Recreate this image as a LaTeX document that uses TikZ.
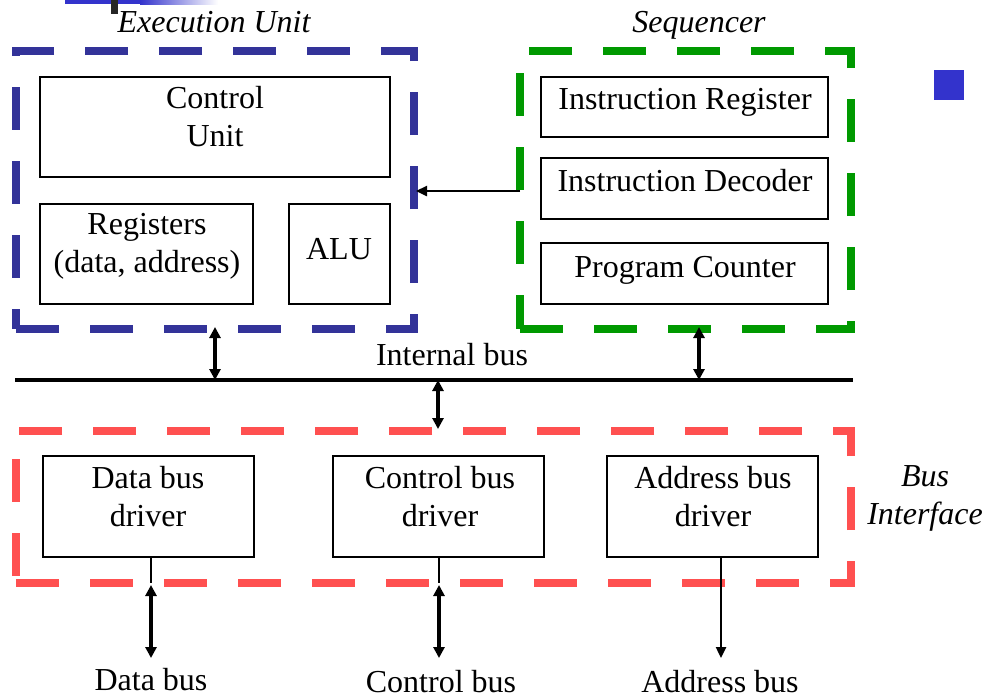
\documentclass[tikz,border=0pt]{standalone}
\usepackage{fontspec}
\setmainfont{Liberation Serif}
\usetikzlibrary{arrows.meta,fit}
\definecolor{eublue}{HTML}{333399}
\definecolor{seqgreen}{HTML}{009900}
\definecolor{bired}{HTML}{FF5050}
\definecolor{sqblue}{HTML}{3333CC}
\begin{document}
\begin{tikzpicture}[x=0.5pt,y=-0.5pt,
  box/.style={draw=black,line width=1pt,inner sep=0pt,outer sep=0pt},
  frame/.style={line width=4pt,dash pattern=on 21.3pt off 15.7pt,inner sep=0pt,outer sep=0pt},
  txt/.style={font=\fontsize{16}{19}\selectfont,align=center,inner sep=0pt},
  ital/.style={font=\fontsize{16}{19}\selectfont\itshape,align=center,inner sep=0pt},
  dbl/.style={line width=1.8pt,{Triangle[length=5.5pt,width=5.5pt]}-{Triangle[length=5.5pt,width=5.5pt]}},
  conn/.style={line width=1.2pt},
  sarrow/.style={line width=1.2pt,-{Triangle[length=5.5pt,width=5pt]}}]
\useasboundingbox (0,0) rectangle (984,697);

% top-left decoration and square
\fill[sqblue] (65,0) rectangle (140,4);
\shade[left color=sqblue,right color=white] (140,0) rectangle (218,4);
\fill[black!85] (111,0) rectangle (118,14);
\fill[sqblue] (934,70) rectangle (964,100);

% frames
\node[frame,draw=eublue,fit={(16,51)(414,329)}] (eu) {};
\node[frame,draw=seqgreen,fit={(520,51)(851,329)}] (seq) {};
\node[frame,draw=bired,fit={(16,431)(851,583)}] (bi) {};

% frame titles
\node[ital,anchor=base] (eut) at (214,32) {Execution Unit};
\node[ital,anchor=base] (seqt) at (699,32) {Sequencer};
\node[ital] (bit) at (925,498) {Bus\\Interface};

% execution unit boxes
\node[box,fit={(40,77)(390,177)}] (cu) {};
\node[txt] (cut) at (215,117) {Control\\Unit};
\node[box,fit={(40,204)(253,304)}] (reg) {};
\node[txt] (regt) at (147,246) {Registers\\(data, address)};
\node[box,fit={(289,204)(390,304)}] (alu) {};
\node[txt,anchor=base] (alut) at (339,259) {ALU};

% sequencer boxes
\node[box,fit={(541,77)(828,137)}] (ir) {};
\node[txt,anchor=base] (irt) at (685,109) {Instruction Register};
\node[box,fit={(541,158)(828,219)}] (id) {};
\node[txt,anchor=base] (idt) at (685,191) {Instruction Decoder};
\node[box,fit={(541,243)(828,304)}] (pc) {};
\node[txt,anchor=base] (pct) at (685,277) {Program Counter};

% bus interface boxes
\node[box,fit={(43,456)(254,557)}] (db) {};
\node[txt] (dbt) at (148,497) {Data bus\\driver};
\node[box,fit={(333,456)(544,557)}] (cb) {};
\node[txt] (cbt) at (440,497) {Control bus\\driver};
\node[box,fit={(607,456)(818,557)}] (ab) {};
\node[txt] (abt) at (713,497) {Address bus\\driver};

% internal bus
\coordinate (busL) at (15,380);
\coordinate (busR) at (853,380);
\draw[line width=2.2pt] (busL) -- (busR);
\node[txt,anchor=base] (busl) at (452,365) {Internal bus};

\coordinate (b1) at (215,380);
\coordinate (b2) at (699,380);
\coordinate (b3) at (438,380);
\draw[dbl] (eu.south -| b1) ++(0,-2) -- (b1);
\draw[dbl] (seq.south -| b2) ++(0,-2) -- (b2);
\draw[dbl] (b3) -- ([yshift=1pt]bi.north -| b3);

% decoder to execution unit
\coordinate (arr) at (0,191);
\draw[sarrow] (seq.west |- arr) -- ([xshift=1pt]eu.east |- arr);

% external buses
\coordinate (dbx) at (151,658);
\coordinate (cbx) at (439,658);
\coordinate (abx) at (721,658);
\draw[conn] (db.south -| dbx) -- (bi.south -| dbx);
\draw[dbl] ([yshift=-1pt]bi.south -| dbx) -- (dbx);
\draw[conn] (cb.south -| cbx) -- (bi.south -| cbx);
\draw[dbl] ([yshift=-1pt]bi.south -| cbx) -- (cbx);
\draw[sarrow] (ab.south -| abx) -- (abx);

\node[txt,anchor=base] (dbl) at (151,690) {Data bus};
\node[txt,anchor=base] (cbl) at (441,692) {Control bus};
\node[txt,anchor=base] (abl) at (720,692) {Address bus};
\end{tikzpicture}
\end{document}
